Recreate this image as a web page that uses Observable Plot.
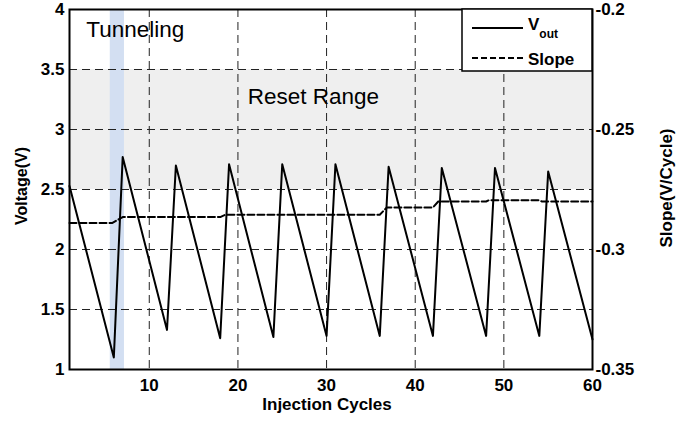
<!DOCTYPE html>
<html><head><meta charset="utf-8">
<script src="https://cdn.jsdelivr.net/npm/d3@7"></script>
<script src="https://cdn.jsdelivr.net/npm/@observablehq/plot@0.6"></script>
<style>html,body{margin:0;padding:0;background:#fff} svg{display:block}</style>
</head><body><div id="chart"></div>
<script>
// ---- data ----
const voutCycles = [1, 6, 7, 12, 13, 18, 19, 24, 25, 30, 31, 36, 37, 42, 43, 48, 49, 54, 55, 60];
const voutValues = [2.53, 1.10, 2.77, 1.33, 2.70, 1.26, 2.71, 1.27, 2.71, 1.28, 2.71, 1.28, 2.69, 1.28, 2.68, 1.28, 2.68, 1.28, 2.65, 1.25];
const slopeCycles = [1, 5.8, 7, 18, 18.6, 36, 36.8, 42, 42.6, 48, 48.3, 54, 54.3, 60];
const slopeValues = [-0.289, -0.289, -0.2865, -0.2865, -0.2855, -0.2855, -0.2825, -0.2825, -0.280, -0.280, -0.2795, -0.2795, -0.280, -0.280];
const xTicks = [10, 20, 30, 40, 50, 60];
const voltTicks = [1, 1.5, 2, 2.5, 3, 3.5, 4];
const slopeTicks = [-0.35, -0.3, -0.25, -0.2];
const slopeTickLabels = ["-0.35", "-0.3", "-0.25", "-0.2"];
const xDomain = [1, 60];
const voltDomain = [1, 4];
const slopeDomain = [-0.35, -0.2];
const resetRange = [2.5, 3.5];
const tunnelRange = [5.6, 7.2];
const annotations = [
  {label: "Tunneling", x: 2.9, y: 3.77},
  {label: "Reset Range", x: 21.1, y: 3.21}
];
const legendLabels = ["V", "out", "Slope"];
const axisTitles = {x: "Injection Cycles", left: "Voltage(V)", right: "Slope(V/Cycle)"};

// map slope values onto the voltage (left) scale
const toVolt = s => voltDomain[0] + (s - slopeDomain[0]) * (voltDomain[1] - voltDomain[0]) / (slopeDomain[1] - slopeDomain[0]);

const vout = voutCycles.map((c, i) => ({c, v: voutValues[i]}));
const slope = slopeCycles.map((c, i) => ({c, v: toVolt(slopeValues[i])}));
const rightTicks = slopeTicks.map(toVolt);
const rightLabel = new Map(rightTicks.map((t, i) => [t.toFixed(6), slopeTickLabels[i]]));

const W = 681, H = 421;
const M = {left: 69, right: 89, top: 9, bottom: 52};
const font = "'Liberation Sans', Arial, Helvetica, sans-serif";

const plot = Plot.plot({
  width: W, height: H,
  marginLeft: M.left, marginRight: M.right, marginTop: M.top, marginBottom: M.bottom,
  style: {fontFamily: font, fontSize: "17px", fontWeight: "bold", background: "#fff", color: "#000"},
  x: {domain: xDomain},
  y: {domain: voltDomain},
  marks: [
    Plot.rect([resetRange], {x1: xDomain[0], x2: xDomain[1], y1: d => d[0], y2: d => d[1], fill: "#efefef"}),
    Plot.rect([tunnelRange], {x1: d => d[0], x2: d => d[1], y1: voltDomain[0], y2: voltDomain[1], fill: "#d3dff2"}),
    Plot.gridX(xTicks.filter(t => t < xDomain[1]), {stroke: "#222", strokeOpacity: 1, strokeWidth: 1, strokeDasharray: "8,5"}),
    Plot.gridY(voltTicks.filter(t => t > voltDomain[0] && t < voltDomain[1]), {stroke: "#222", strokeOpacity: 1, strokeWidth: 1, strokeDasharray: "8,5"}),
    Plot.line(slope, {x: "c", y: "v", stroke: "#000", strokeWidth: 2, strokeDasharray: "7,3"}),
    Plot.line(vout, {x: "c", y: "v", stroke: "#000", strokeWidth: 2}),
    Plot.text(annotations, {x: "x", y: "y", text: "label", textAnchor: "start", lineAnchor: "bottom", fontSize: 22.5, fontWeight: "normal", fill: "#000"}),
    Plot.axisX({ticks: xTicks, tickSize: 0, tickPadding: 9, label: null, tickFormat: d => String(d)}),
    Plot.axisY({ticks: voltTicks, tickSize: 0, tickPadding: 5, label: null, anchor: "left", tickFormat: d => String(d)}),
    Plot.axisY({ticks: rightTicks, tickSize: 0, tickPadding: 3, label: null, anchor: "right",
      tickFormat: t => rightLabel.get(t.toFixed(6)) ?? ""}),
    Plot.frame({stroke: "#000", strokeWidth: 2})
  ]
});

document.getElementById("chart").appendChild(plot);

// legend + axis titles
const svg = d3.select(plot);
const g = svg.append("g").attr("font-family", font).attr("font-weight", "bold").attr("fill", "#000")
  .attr("text-anchor", "start");
const lx = 462, ly = M.top, lw = W - M.right - lx, lh = 62;
g.append("rect").attr("x", lx).attr("y", ly).attr("width", lw).attr("height", lh)
  .attr("fill", "#fff").attr("stroke", "#000").attr("stroke-width", 1.5);
g.append("line").attr("x1", 472).attr("x2", 523).attr("y1", 28).attr("y2", 28)
  .attr("stroke", "#000").attr("stroke-width", 2);
g.append("line").attr("x1", 472).attr("x2", 523).attr("y1", 58).attr("y2", 58)
  .attr("stroke", "#000").attr("stroke-width", 2).attr("stroke-dasharray", "6,3");
const t1 = g.append("text").attr("x", 528).attr("y", 30).attr("font-size", 17).attr("text-anchor", "start");
t1.append("tspan").text(legendLabels[0]);
t1.append("tspan").attr("font-size", 12).attr("dy", 8).text(legendLabels[1]);
g.append("text").attr("x", 528).attr("y", 65).attr("font-size", 17).attr("text-anchor", "start").text(legendLabels[2]);

g.append("text").attr("x", 327).attr("y", 410).attr("text-anchor", "middle").attr("font-size", 17).text(axisTitles.x);
g.append("text").attr("transform", "translate(21,186) rotate(-90)").attr("text-anchor", "middle")
  .attr("dominant-baseline", "central").attr("font-size", 16).text(axisTitles.left);
g.append("text").attr("transform", "translate(666,188) rotate(-90)").attr("text-anchor", "middle")
  .attr("dominant-baseline", "central").attr("font-size", 17).text(axisTitles.right);
</script>
</body></html>
